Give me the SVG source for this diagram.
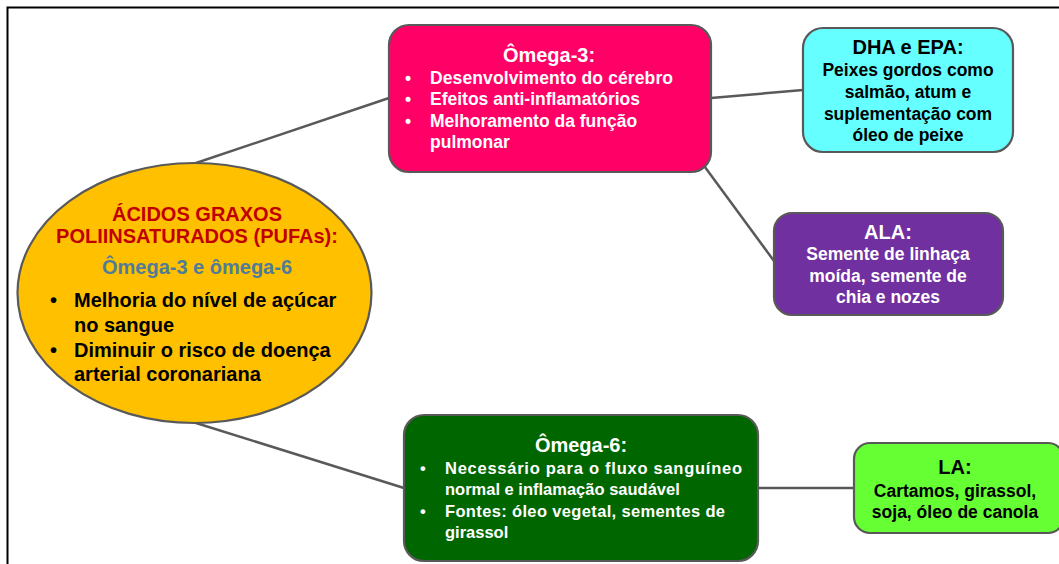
<svg xmlns="http://www.w3.org/2000/svg" width="1059" height="564" viewBox="0 0 1059 564">
<style>
.box{stroke:#595959;stroke-width:2.2}
.conn{stroke:#595959;stroke-width:2.5;fill:none}
text{font-family:"Liberation Sans",Arial,sans-serif;font-weight:bold}
.t{font-size:20px}
.s{font-size:17.5px}
.s6{font-size:16.5px}
.e{font-size:20px}
.w{fill:#ffffff}
.k{fill:#000000}
.c{text-anchor:middle}
</style>
<rect x="0" y="0" width="1059" height="564" fill="#ffffff"/>
<path d="M7.5,564 V7.5 H1059" fill="none" stroke="#000000" stroke-width="2"/>
<g id="connectors">
<line class="conn" x1="193" y1="164" x2="389" y2="98"/>
<line class="conn" x1="711" y1="98" x2="803" y2="90"/>
<line class="conn" x1="702" y1="163" x2="774" y2="261"/>
<line class="conn" x1="196" y1="423" x2="404" y2="488"/>
<line class="conn" x1="757" y1="488" x2="854" y2="488"/>
</g>
<g id="pufas">
<ellipse class="box" cx="194.5" cy="293" rx="177" ry="130" fill="#FFC000"/>
<text class="e c" x="197" y="221" fill="#C00000">ÁCIDOS GRAXOS</text>
<text class="e c" x="197" y="243" fill="#C00000">POLIINSATURADOS (PUFAs):</text>
<text class="e c" x="197" y="274" fill="#4F7C99">Ômega-3 e ômega-6</text>
<text class="e k" x="50" y="307">•</text>
<text class="e k" x="74" y="307">Melhoria do nível de açúcar</text>
<text class="e k" x="74" y="332">no sangue</text>
<text class="e k" x="50" y="357">•</text>
<text class="e k" x="74" y="357">Diminuir o risco de doença</text>
<text class="e k" x="74" y="381">arterial coronariana</text>
</g>
<g id="omega3">
<rect class="box" x="389" y="25" width="322" height="147" rx="20" fill="#FF0066"/>
<text class="t c w" x="549" y="62">Ômega-3:</text>
<text class="s w" x="405" y="84">•</text>
<text class="s w" x="430" y="84" textLength="243" lengthAdjust="spacing">Desenvolvimento do cérebro</text>
<text class="s w" x="405" y="105">•</text>
<text class="s w" x="430" y="105">Efeitos anti-inflamatórios</text>
<text class="s w" x="405" y="127">•</text>
<text class="s w" x="430" y="127">Melhoramento da função</text>
<text class="s w" x="430" y="148">pulmonar</text>
</g>
<g id="dha-epa">
<rect class="box" x="803" y="28" width="210" height="124" rx="20" fill="#66FFFF"/>
<text class="t c k" x="908" y="54">DHA e EPA:</text>
<text class="s c k" x="908" y="76">Peixes gordos como</text>
<text class="s c k" x="908" y="98">salmão, atum e</text>
<text class="s c k" x="908" y="120">suplementação com</text>
<text class="s c k" x="908" y="141">óleo de peixe</text>
</g>
<g id="ala">
<rect class="box" x="774" y="213" width="229" height="102" rx="18" fill="#7030A0"/>
<text class="t c w" x="888" y="239">ALA:</text>
<text class="s c w" x="888" y="260">Semente de linhaça</text>
<text class="s c w" x="888" y="282">moída, semente de</text>
<text class="s c w" x="888" y="303">chia e nozes</text>
</g>
<g id="omega6">
<rect class="box" x="404" y="415" width="354" height="146" rx="20" fill="#006600"/>
<text class="t c w" x="581" y="452">Ômega-6:</text>
<text class="s6 w" x="420" y="474">•</text>
<text class="s6 w" x="445" y="474" textLength="297" lengthAdjust="spacing">Necessário para o fluxo sanguíneo</text>
<text class="s6 w" x="445" y="495">normal e inflamação saudável</text>
<text class="s6 w" x="420" y="517">•</text>
<text class="s6 w" x="445" y="517" textLength="280" lengthAdjust="spacing">Fontes: óleo vegetal, sementes de</text>
<text class="s6 w" x="445" y="538">girassol</text>
</g>
<g id="la">
<rect class="box" x="854" y="443" width="210" height="90" rx="16" fill="#66FF33"/>
<text class="t c k" x="955" y="474">LA:</text>
<text class="s c k" x="955" y="497">Cartamos, girassol,</text>
<text class="s c k" x="955" y="518">soja, óleo de canola</text>
</g>
</svg>
